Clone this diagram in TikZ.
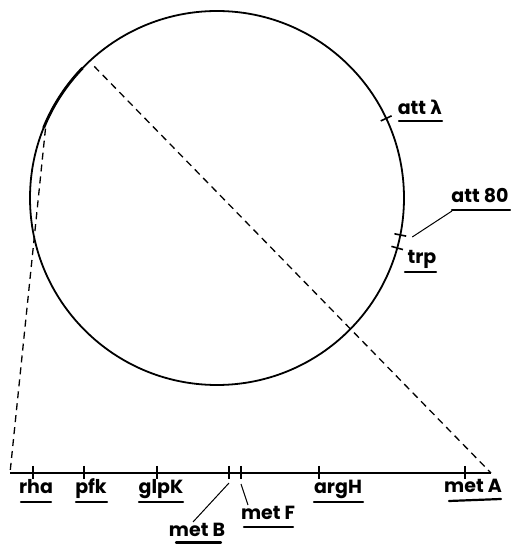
\documentclass[tikz,border=0pt]{standalone}
\usepackage{fontspec}
\usetikzlibrary{calc}
\setmainfont{Poppins}
\newfontfamily\grk{DejaVu Sans}
\begin{document}
\begin{tikzpicture}[x=1pt,y=1pt,
  lbl/.style={inner sep=0pt,anchor=base,font=\fontsize{19}{19}\selectfont\bfseries},
  uline/.style={line width=2.2pt,line cap=round},
  dsh/.style={line width=1.3pt,dash pattern=on 7pt off 5pt},
  tick/.style={line width=1.6pt},
  conn/.style={line width=1pt}]
\useasboundingbox (0,0) rectangle (511,544);
% chromosome circle
\coordinate (c) at (217,346);
\draw[line width=1.8pt] (c) circle (187);
\draw[line width=2.8pt] ($(c)+(136:187)$) arc (136:158:187);
\coordinate (a1) at ($(c)+(158:185)$);
\coordinate (a2) at ($(c)+(133:180)$);
% map line
\coordinate (L) at (10,71);
\coordinate (R) at (491,71);
\draw[line width=2.6pt] (L) -- (R);
\draw[dsh] (a1) -- (L);
\draw[dsh] (a2) -- (R);
% ticks on map line
\foreach \n/\x in {rha/33,pfk/84,glpK/157,metB/229,metF/241,argH/319,metA/465}{
  \coordinate (t\n) at (\x,71);
  \draw[tick] (\x,78) -- (\x,65);
}
% circle ticks
\foreach \n/\a in {attl/25.2,att80/-11.4,trp/-15.5}{
  \coordinate (t\n) at ($(c)+(\a:187)$);
  \draw[tick] ($(c)+(\a:181)$) -- ($(c)+(\a:193)$);
}
% labels below map
\node[lbl] (rha) at (36,50) {rha};
\draw[uline] (21,42) -- (51,42);
\node[lbl] (pfk) at (91,50) {pfk};
\draw[uline] (76,42) -- (107,42);
\node[lbl] (glpK) at (161,50) {glpK};
\draw[uline] (139,42) -- (183,42);
\node[lbl] (argH) at (338,50) {argH};
\draw[uline] (314,42) -- (363,42);
\node[lbl] (metA) at (473,51) {met A};
\draw[uline] (449,43) -- (501,45);
\node[lbl] (metF) at (268,24.5) {met F};
\draw[uline] (244,17) -- (293,17);
\node[lbl] (metB) at (197,7.5) {met B};
\draw[uline] (176,1.5) -- (221,1.5);
\coordinate (mb) at (193,22);
\coordinate (mf) at (248,39);
\draw[conn] ($(tmetB)+(0,-10)$) -- (mb);
\draw[conn] ($(tmetF)+(0,-11)$) -- (mf);
% right labels
\node[lbl] (attl) at (420,429.5) {att {\grk λ}};
\draw[uline] (399,423) -- (442,423);
\node[lbl] (att80) at (480,341) {att 80};
\draw[uline] (452,334) -- (510,334);
\coordinate (m80) at (452,333);
\draw[conn] ($(tatt80)+(12,-2)$) -- (m80);
\node[lbl] (trp) at (422,280.5) {trp};
\draw[uline] (405,272) -- (436,272);
\end{tikzpicture}
\end{document}
